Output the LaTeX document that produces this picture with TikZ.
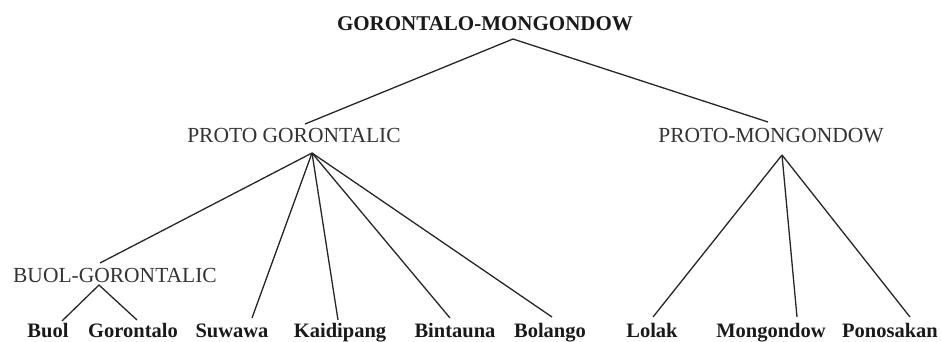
\documentclass[tikz,border=0pt]{standalone}
\usepackage{fontspec}
\setmainfont{Liberation Serif}

\begin{document}
\begin{tikzpicture}[
x=1pt, y=-1pt,
root/.style={inner sep=0pt, anchor=base, text=black!90, font=\fontsize{21}{24}\selectfont\bfseries},
proto/.style={inner sep=0pt, anchor=base, text=black!80, font=\fontsize{21.5}{25}\selectfont},
lang/.style={inner sep=0pt, anchor=base, text=black!90, font=\fontsize{20.5}{24}\selectfont\bfseries},
branch/.style={line width=1.3pt, black!85}
]
\useasboundingbox (0,0) rectangle (941,341);
\node[root] (gm) at (485,30) {GORONTALO-MONGONDOW};
\node[proto] (pg) at (294,142) {PROTO GORONTALIC};
\node[proto] (pm) at (771,142) {PROTO-MONGONDOW};
\node[proto] (bg) at (115,282) {BUOL-GORONTALIC};
\node[lang] (buol) at (48,337) {Buol};
\node[lang] (gorontalo) at (133,337) {Gorontalo};
\node[lang] (suwawa) at (232,337) {Suwawa};
\node[lang] (kaidipang) at (340,337) {Kaidipang};
\node[lang] (bintauna) at (455,337) {Bintauna};
\node[lang] (bolango) at (550,337) {Bolango};
\node[lang] (lolak) at (652,337) {Lolak};
\node[lang] (mongondow) at (771,337) {Mongondow};
\node[lang] (ponosakan) at (890,337) {Ponosakan};
\draw[branch] ([shift={(11,-18)}]pg.base) -- ([shift={(28,9)}]gm.base) -- ([shift={(-3,-20)}]pm.base);
\draw[branch] ([shift={(18,11)}]pg.base) -- ([shift={(-15,-19)}]bg.base);
\draw[branch] ([shift={(18,11)}]pg.base) -- ([shift={(20,-19)}]suwawa.base);
\draw[branch] ([shift={(18,11)}]pg.base) -- ([shift={(-2,-17)}]kaidipang.base);
\draw[branch] ([shift={(18,11)}]pg.base) -- ([shift={(-5,-19)}]bintauna.base);
\draw[branch] ([shift={(18,11)}]pg.base) -- ([shift={(2,-20)}]bolango.base);
\draw[branch] ([shift={(14,-16)}]buol.base) -- ([shift={(-16,3)}]bg.base) -- ([shift={(4,-17)}]gorontalo.base);
\draw[branch] ([shift={(11,13)}]pm.base) -- ([shift={(1,-20)}]lolak.base);
\draw[branch] ([shift={(11,13)}]pm.base) -- ([shift={(26,-20)}]mongondow.base);
\draw[branch] ([shift={(11,13)}]pm.base) -- ([shift={(20,-20)}]ponosakan.base);
\end{tikzpicture}
\end{document}
